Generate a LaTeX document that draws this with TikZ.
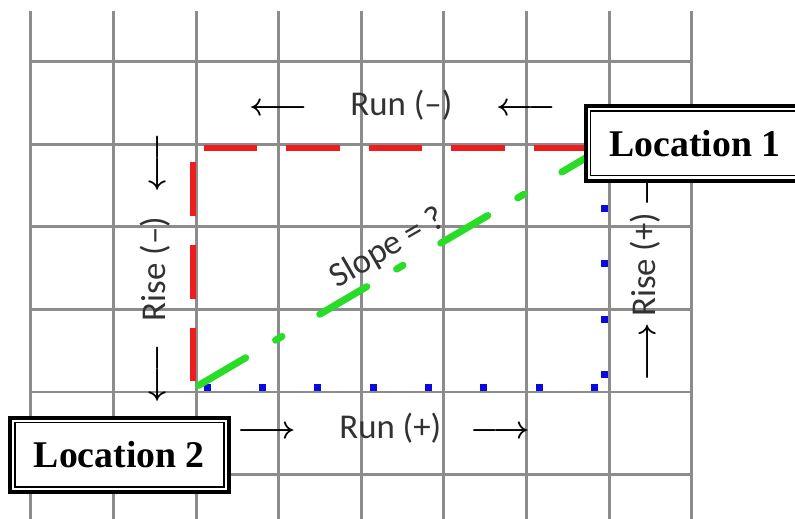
\documentclass[tikz,border=0pt]{standalone}
\usepackage{fontspec}
\usepackage{tikz}
\usetikzlibrary{positioning}

\newfontfamily\labelfont{Carlito}
\newfontfamily\boxfont{Liberation Serif}

\definecolor{gridgray}{RGB}{140,140,140}
\definecolor{labelgray}{RGB}{50,50,50}
\definecolor{runred}{RGB}{238,28,28}
\definecolor{slopegreen}{RGB}{40,220,40}
\definecolor{dotblue}{RGB}{10,10,220}

\newcommand{\negarr}{{\color{black}\fontsize{10.7}{12}\selectfont\boldmath$\longleftarrow$}}
\newcommand{\posarr}{{\color{black}\fontsize{10.7}{12}\selectfont\boldmath$\longrightarrow$}}

\begin{document}
\begin{tikzpicture}[
    gridline/.style={draw=gridgray, line width=0.036cm},
    runline/.style={draw=runred, line width=0.07cm, dash pattern=on 0.65cm off 0.35cm},
    slopeline/.style={draw=slopegreen, line width=0.085cm, line cap=round, dash pattern=on 0.66cm off 0.42cm on 0.09cm off 0.53cm},
    dotline/.style={draw=dotblue, line width=0.085cm, dash pattern=on 0.085cm off 0.585cm},
    tag/.style={font=\labelfont\fontsize{12}{14}\selectfont, text=labelgray, inner sep=0pt},
    location/.style={draw=black, fill=white, line width=0.048cm, minimum width=2.65cm, minimum height=0.9cm,
        font=\boxfont\bfseries\fontsize{13}{15}\selectfont,
        path picture={\draw[line width=0.6pt] ([shift={(0.06cm,0.06cm)}]path picture bounding box.south west) rectangle ([shift={(-0.06cm,-0.06cm)}]path picture bounding box.north east);}}
]

% Page
\useasboundingbox[fill=white] (-0.375,-1.537) rectangle (9.25,4.746);

% Grid
\draw[gridline, step=1cm] (0,-1.6) grid (8,4.61);

% Corners of the run and rise
\coordinate (topleft) at (2.09,2.95);
\coordinate (topright) at (6.8,2.95);
\coordinate (leftup) at (1.96,2.78);
\coordinate (leftdown) at (1.96,0.11);
\coordinate (bottomleft) at (2.09,0.06);
\coordinate (bottomright) at (6.9,0.06);
\coordinate (rightdown) at (6.94,0.17);
\coordinate (rightup) at (6.94,3.0);
\coordinate (slopestart) at (2.03,0.08);
\coordinate (slopeend) at (7.0,3.0);

% Negative run and rise
\draw[runline] (topleft) -- (topright);
\draw[runline] (leftup) -- (leftdown);

% Positive run and rise
\draw[dotline] (bottomleft) -- (bottomright);
\draw[dotline] (rightdown) -- (rightup);

% Slope
\draw[slopeline] (slopestart) -- (slopeend);

% Labels
\node[tag] (run_neg) at (4.50,3.47) {\negarr\hspace{0.51cm}Run (–)\hspace{0.54cm}\negarr};
\node[tag, rotate=90] (rise_neg) at (1.50,1.50) {\negarr\hspace{0.28cm}Rise (–)\hspace{0.30cm}\negarr};
\node[tag] (run_pos) at (4.27,-0.44) {\posarr\hspace{0.52cm}Run (+)\hspace{0.36cm}\posarr};
\node[tag, rotate=90, anchor=west] (rise_pos) at (7.43,0.12) {\posarr\hspace{0.07cm}Rise (+)\hspace{0.08cm}\posarr};
\node[tag, rotate=30] (slope) at (4.32,1.74) {Slope = ?};

% Locations
\node[location] (location_one) at (8.04,3.01) {Location 1};
\node[location] (location_two) at (1.07,-0.76) {Location 2};

\end{tikzpicture}
\end{document}
